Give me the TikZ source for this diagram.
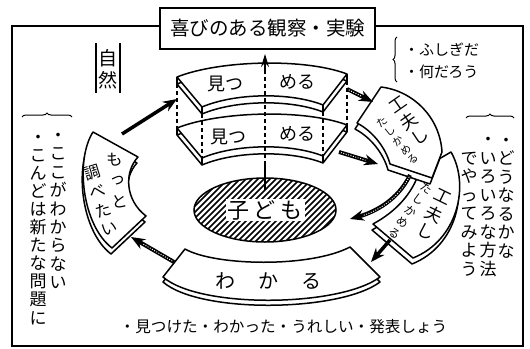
\documentclass[tikz,border=0pt]{standalone}
\usepackage{fontspec}
\newfontfamily\jp{Noto Sans CJK JP}
\usetikzlibrary{arrows.meta,decorations.pathreplacing,shapes.geometric}
\newcommand\jpfs[2]{\fontsize{#1}{#2}\selectfont}
\newcommand\vp{\vphantom{国}}
\newcommand\ShapeSlab[1]{\path[#1] (177,77) .. controls (220,60) and (305,58) .. (347,74) -- (323,105) .. controls (290,92) and (235,93) .. (202,107) -- cycle;}
\newcommand\ShapeKufuA[1]{\path[#1] (381,87) .. controls (414,91) and (440,118) .. (442,152) -- (432,178) -- (390,164) .. controls (386,149) and (374,132) .. (357,123) -- cycle;}
\newcommand\ShapeKufuB[1]{\path[#1] (420,170) -- (451,152) .. controls (470,185) and (458,240) .. (413,258) -- (373,224) .. controls (395,212) and (412,195) .. (420,170) -- cycle;}
\newcommand\ShapeWakaru[1]{\path[#1] (185,249) .. controls (215,266) and (310,268) .. (350,247) -- (380,277) .. controls (340,307) and (200,309) .. (163,277) -- cycle;}
\newcommand\ShapeMotto[1]{\path[#1] (93,132) -- (138,157) .. controls (124,172) and (125,200) .. (146,216) -- (112,248) .. controls (82,225) and (75,160) .. (93,132) -- cycle;}
% rotated vertical column: name prefix, x, y of first char, angle, spacing, font size, chars
\newcommand\RotCol[7]{%
  \foreach \ch [count=\k] in {#7} {%
    \node[rotate=#4, inner sep=0pt, font=\jp\jpfs{#6}{#6}, name=#1\k] at ({#2+(\k-1)*#5*sin(#4)},{#3+(\k-1)*#5*cos(#4)}) {\ch};}}
\begin{document}
\begin{tikzpicture}[x=1pt,y=-1pt,font=\jp,
  pc/.style={draw, fill=white, line width=1.5pt, line join=round},
  edge/.style={line width=1.5pt},
  vcol/.style={align=center, inner sep=0pt},
  dsh/.style={line width=1.2pt, dash pattern=on 4pt off 3pt},
  solidarr/.style={line width=3.5pt, -{Stealth[length=14pt,width=11pt]}},
  texarr/.style={line width=4pt, draw=black, -{Stealth[length=14pt,width=11pt]},
     postaction={draw=white, line width=0.9pt, dash pattern=on 1pt off 1.5pt, -, shorten >=13pt, shorten <=2pt}},
  brc/.style={line width=1pt, decorate, decoration={brace, amplitude=4pt}}]
\useasboundingbox (0,0) rectangle (530,348);
\fill[white] (0,0) rectangle (530,348);
% frame and title
\draw[line width=2pt] (12,26) rectangle (523,346);
\node[draw, line width=2pt, fill=white, minimum width=215, minimum height=41, inner sep=0pt] (title) at (267.5,28.5) {\jpfs{19.5}{22}喜びのある観察・実験};
% nature label
\node[vcol, font=\jp\jpfs{19}{22}] (nat) at (108,69) {\vp 自\\然\vp};
\draw[line width=1.5pt] (96,43) -- (96,93);
\draw[line width=1.5pt] (120,43) -- (120,93);
% top right notes
\draw[brc] (397,82) -- (397,37);
\node[anchor=west, inner sep=0pt, font=\jp\jpfs{15}{17}] (q1) at (404,50) {・ふしぎだ};
\node[anchor=west, inner sep=0pt, font=\jp\jpfs{15}{17}] (q2) at (404,72) {・何だろう};
% left notes
\draw[brc] (22,117) -- (72,117);
\node[vcol, font=\jp\jpfs{17}{18.4}] (L1) at (58,209) {\vp・\\こ\\こ\\が\\わ\\か\\ら\\な\\い\vp};
\node[vcol, font=\jp\jpfs{17}{18.1}] (L2) at (38,227.5) {\vp・\\こ\\ん\\ど\\は\\新\\た\\な\\問\\題\\に\vp};
% right notes
\draw[brc] (466,118) -- (514,118);
\node[vcol, font=\jp\jpfs{17}{18.5}] (R1) at (506,195.5) {\vp・\\ど\\う\\な\\る\\か\\な\vp};
\node[vcol, font=\jp\jpfs{17}{18.5}] (R2) at (488,204.5) {\vp・\\い\\ろ\\い\\ろ\\な\\方\\法\vp};
\node[vcol, font=\jp\jpfs{17}{18.5}] (R3) at (469,213.5) {\vp で\\や\\っ\\て\\み\\よ\\う\vp};
% bottom note
\node[font=\jp\jpfs{15.6}{17}] (bt) at (283.5,327) {・見つけた・わかった・うれしい・発表しょう};
% child ellipse
\begin{scope}
\clip (265,210) ellipse [x radius=71, y radius=32];
\foreach \i in {-110,-104,...,110} \draw[line width=1.7pt] ({265+\i-40},250) -- ({265+\i+40},170);
\end{scope}
\node[ellipse, draw, line width=1.5pt, minimum width=142, minimum height=64, inner sep=0pt] (kid) at (265,210) {};
\node[fill=white, inner sep=1.5pt, font=\jp\jpfs{22}{24}] (kidtxt) at (265,210) {子\hspace{5pt}ど\hspace{5pt}も};
% lower slab
\ShapeSlab{pc, shift={(0,58)}}
\ShapeSlab{pc, shift={(0,51)}}
% upper slab
\ShapeSlab{pc, shift={(0,7)}}
\ShapeSlab{pc}
\foreach \yy in {0,51} {
  \draw[edge] (177,77+\yy) -- (177,84+\yy);
  \draw[edge] (202,107+\yy) -- (202,114+\yy);
  \draw[edge] (323,105+\yy) -- (323,112+\yy);
  \draw[edge] (347,74+\yy) -- (347,81+\yy);
}
\node[font=\jp\jpfs{18}{20}] (m1a) at (225,84) {見つ};
\node[font=\jp\jpfs{18}{20}] (m1b) at (297,82) {める};
\node[font=\jp\jpfs{18}{20}] (m2a) at (228,137) {見つ};
\node[font=\jp\jpfs{18}{20}] (m2b) at (297,134) {める};
% dashed guides
\draw[dsh] (177,84) -- (177,128);
\draw[dsh] (202,114) -- (202,162);
\draw[dsh] (323,112) -- (323,162);
\draw[dsh] (347,81) -- (347,125);
% right pieces
\ShapeKufuB{pc, shift={(-1,6)}}
\ShapeKufuB{pc}
\ShapeKufuA{pc, shift={(-2,6)}}
\ShapeKufuA{pc}
\RotCol{kA}{398}{105}{35}{19.5}{17}{工,夫,し}
\RotCol{tA}{382}{122}{40}{12.2}{10.5}{た,し,か,め,る}
\RotCol{kB}{443}{197}{-26}{19.5}{17}{工,夫,し}
\RotCol{tB}{427}{188}{-35}{14}{11.5}{た,し,か,め,る}
% bottom piece
\ShapeWakaru{pc, shift={(0,5)}}
\ShapeWakaru{pc}
\node[font=\jp\jpfs{20}{22}] (wk) at (268,281) {わ\hspace{23pt}か\hspace{23pt}る};
% left piece
\ShapeMotto{pc, shift={(-1,6)}}
\ShapeMotto{pc}
\RotCol{mo}{115}{160}{7}{21}{16}{も,っ,と}
\RotCol{sh}{92}{173}{17}{19.5}{16}{調,べ,た,い}
% central arrow
\coordinate (c0) at (265,190);
\coordinate (c1) at (265,165);
\coordinate (c2) at (265,72);
\coordinate (c3) at (265,54);
\draw[line width=1.2pt] (c0) -- (c1);
\draw[dsh] (c1) -- (c2);
\draw[line width=1.2pt, -{Stealth[length=13pt,width=8pt]}] (c2) -- (c3);
% cycle arrows
\coordinate (a1s) at (122,134); \coordinate (a1e) at (177,99);
\coordinate (a2s) at (347,89);  \coordinate (a2e) at (373,102);
\coordinate (a3s) at (339,152); \coordinate (a3e) at (378,164);
\coordinate (a4s) at (410,175); \coordinate (a4e) at (350,219);
\coordinate (a5s) at (390,240); \coordinate (a5e) at (371,262);
\coordinate (a6s) at (174,262); \coordinate (a6e) at (131,237);
\draw[solidarr] (a1s) -- (a1e);
\draw[texarr] (a2s) -- (a2e);
\draw[texarr] (a3s) -- (a3e);
\draw[texarr] (a4s) .. controls (398,200) and (375,212) .. (a4e);
\draw[solidarr] (a5s) -- (a5e);
\draw[texarr] (a6s) -- (a6e);
\end{tikzpicture}
\end{document}
